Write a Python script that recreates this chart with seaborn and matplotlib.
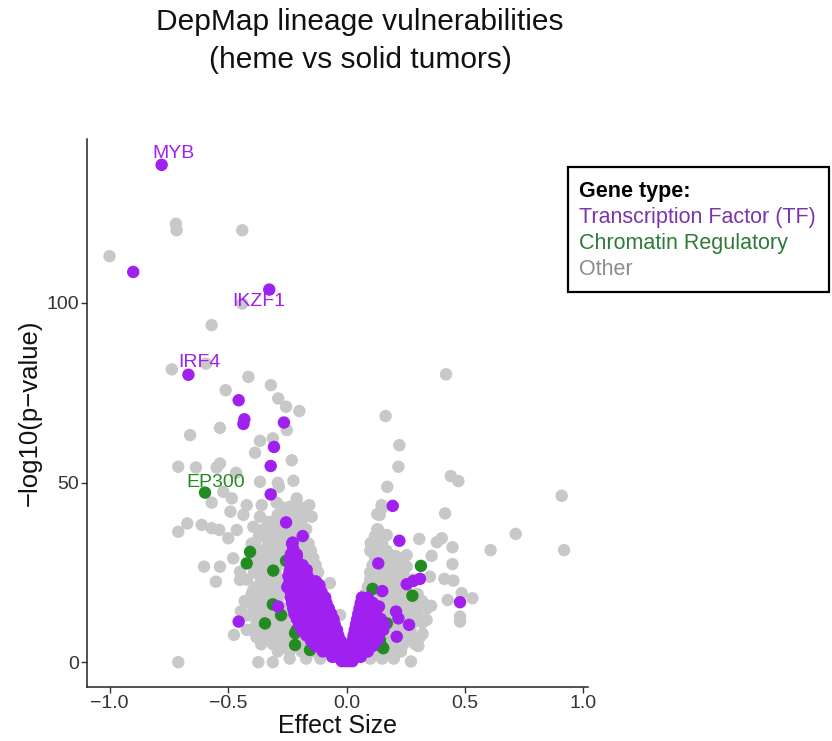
import matplotlib
matplotlib.use("Agg")
import matplotlib.pyplot as plt
from matplotlib.patches import Rectangle
import numpy as np
import pandas as pd
import seaborn as sns

# ---------------------------------------------------------------- data
# Genes outside the two highlighted classes ("Other")
other_x = [
    -0.72, -0.717, -0.44, -1.0, -0.44, -0.569, -0.737, -0.593, -0.414, -0.51,
    -0.319, -0.288, -0.255, -0.199, -0.534, -0.252, -0.66, -0.365, -0.311, -0.386,
    -0.231, -0.534, -0.548, -0.71, -0.635, -0.466, -0.365, -0.29, -0.224, -0.52,
    -0.285, -0.484, -0.569, -0.421, -0.358, -0.295, -0.21, -0.157, -0.49, -0.435,
    -0.238, -0.182, -0.147, -0.365, -0.309, -0.672, -0.611, -0.71, -0.569, -0.537,
    -0.463, -0.393, -0.323, -0.196, -0.499, -0.386, -0.33, -0.281, -0.168, -0.478,
    -0.365, -0.601, -0.534, -0.449, -0.551, -0.449, -0.351, -0.393, -0.337, -0.446,
    -0.407, -0.421, -0.475, -0.316, -0.71, -0.372, -0.311,
    0.42, 0.165, 0.223, 0.219, 0.44, 0.472, 0.172, 0.908, 0.148, 0.13,
    0.416, 0.134, 0.17, 0.307, 0.381, 0.402, 0.447, 0.714, 0.608, 0.918,
    0.102, 0.138, 0.205, 0.254, 0.359, 0.447, 0.212, 0.254, 0.352, 0.413,
    0.451, 0.184, 0.486, 0.531, 0.427, 0.357, 0.479, 0.479, 0.338, 0.321,
    0.303, 0.272, -0.027, -0.07,
    # dense cloud around the origin
    -0.24, -0.17, -0.11, 0.10, 0.15, 0.20,
    -0.29, -0.24, -0.19, -0.14, 0.13, 0.18, 0.23,
    -0.36, -0.31, -0.27, -0.23, -0.19, 0.16, 0.20, 0.24, 0.29,
    -0.38, -0.34, -0.30, -0.26, -0.22, 0.18, 0.22, 0.26, 0.31,
    -0.40, -0.36, -0.32, -0.28, -0.24, 0.19, 0.23, 0.27,
    -0.38, -0.34, -0.30, -0.26, 0.19, 0.23, 0.28, 0.32,
    -0.42, -0.37, -0.33, -0.29, -0.26, 0.05, 0.18, 0.22, 0.26, 0.30,
    -0.39, -0.35, -0.31, -0.27, 0.08, 0.17, 0.21, 0.25, 0.30, 0.34,
    -0.43, -0.37, -0.33, -0.29, 0.07, 0.15, 0.19, 0.23, 0.27, 0.32,
    -0.40, -0.35, -0.30, -0.28, 0.08, 0.14, 0.18, 0.22, 0.26, 0.30,
    -0.38, -0.33, -0.29, -0.12, 0.09, 0.13, 0.17, 0.21, 0.25,
    -0.42, -0.36, -0.32, -0.28, -0.13, 0.10, 0.14, 0.19, 0.23, 0.28,
    -0.39, -0.34, -0.30, -0.15, -0.12, 0.10, 0.15, 0.20, 0.24,
    -0.37, -0.33, -0.29, -0.16, -0.13, 0.11, 0.16, 0.19, 0.23,
    -0.39, -0.34, -0.30, -0.27, -0.17, -0.14, 0.12, 0.15, 0.18, 0.22,
    -0.36, -0.31, -0.27, -0.19, -0.15, 0.10, 0.13, 0.17,
    -0.40, -0.33, -0.28, -0.24, -0.20, -0.16, 0.11, 0.15,
    -0.37, -0.31, -0.26, -0.22, -0.18, 0.12, 0.16,
    -0.35, -0.29, -0.25, -0.21, -0.17, 0.13,
    -0.33, -0.27, -0.23, -0.19,
    -0.29, -0.25, -0.21, 0.14,
    -0.27, -0.23, -0.19, 0.15,
]
other_y = [
    122.0, 120.2, 120.2, 113.0, 99.8, 93.8, 81.5, 83.1, 79.4, 75.7,
    77.1, 73.4, 71.1, 69.9, 65.2, 64.6, 63.2, 61.6, 62.3, 58.3,
    56.2, 55.3, 54.2, 54.4, 54.2, 52.7, 50.2, 49.9, 50.5, 47.4,
    48.8, 45.6, 44.4, 43.7, 43.7, 44.4, 45.6, 43.7, 41.9, 41.0,
    43.3, 41.4, 40.5, 40.5, 39.1, 38.6, 38.2, 36.3, 37.3, 36.8,
    36.8, 37.7, 38.2, 38.6, 34.5, 33.1, 34.2, 34.0, 32.1, 28.9,
    30.3, 26.6, 26.6, 25.2, 22.4, 22.9, 22.9, 20.1, 18.2, 14.1,
    16.4, 9.0, 7.6, 6.2, 0.0, 0.0, 0.0,
    80.1, 68.5, 60.4, 54.4, 51.8, 50.4, 48.8, 46.3, 43.7, 41.2,
    41.4, 36.8, 35.4, 34.3, 33.4, 34.5, 32.0, 35.7, 31.2, 31.2,
    33.1, 32.0, 29.6, 29.8, 29.6, 27.3, 27.5, 26.6, 23.8, 23.2,
    22.7, 22.0, 19.2, 17.8, 17.3, 15.7, 12.7, 11.3, 11.8, 7.9,
    4.5, 0.2, 13.1, 22.0,
    1, 1, 1, 1, 1, 1,
    3, 3, 3, 3, 3, 3, 3,
    5, 5, 5, 5, 5, 5, 5, 5, 5,
    7, 7, 7, 7, 7, 7, 7, 7, 7,
    9, 9, 9, 9, 9, 9, 9, 9,
    11, 11, 11, 11, 11, 11, 11, 11,
    13, 13, 13, 13, 13, 13, 13, 13, 13, 13,
    15, 15, 15, 15, 15, 15, 15, 15, 15, 15,
    17, 17, 17, 17, 17, 17, 17, 17, 17, 17,
    19, 19, 19, 19, 19, 19, 19, 19, 19, 19,
    21, 21, 21, 21, 21, 21, 21, 21, 21,
    23, 23, 23, 23, 23, 23, 23, 23, 23, 23,
    25, 25, 25, 25, 25, 25, 25, 25, 25,
    27, 27, 27, 27, 27, 27, 27, 27, 27,
    29, 29, 29, 29, 29, 29, 29, 29, 29, 29,
    31, 31, 31, 31, 31, 31, 31, 31,
    33, 33, 33, 33, 33, 33, 33, 33,
    35, 35, 35, 35, 35, 35, 35,
    37, 37, 37, 37, 37, 37,
    39, 39, 39, 39,
    41, 41, 41, 41,
    43, 43, 43, 43,
]

# Chromatin regulators
chrom_x = [
    -0.597, -0.407, -0.421, -0.255, -0.309, -0.311, -0.276, -0.185, -0.344, -0.217,
    -0.217, -0.154, -0.21, -0.12, 0.314, 0.11, 0.278, 0.141, 0.155, 0.17, 0.15,
]
chrom_y = [
    47.2, 30.7, 27.5, 28.2, 25.5, 16.1, 13.1, 15.9, 10.8, 8.1,
    4.8, 3.4, 9.0, 17.0, 26.8, 20.4, 18.5, 6.2, 3.9, 10.8, 4.3,
]

# Transcription factors
tf_x = [
    -0.78, -0.90, -0.326, -0.667, -0.455, -0.431, -0.435, -0.264, -0.306, -0.32,
    -0.32, -0.255, -0.185, -0.227, -0.21, -0.224, -0.168, -0.25, -0.115, -0.154,
    -0.289, -0.455, 0.195, 0.223, 0.134, 0.254, 0.282, 0.31, 0.151, 0.479,
    0.137, 0.209, 0.219, 0.264, 0.212,
    # core of the V
    -0.02, -0.005, 0.01, 0.025,
    -0.06, -0.04, -0.02, 0.0, 0.02, 0.04, 0.06,
    -0.10, -0.075, -0.05, -0.03, -0.01, 0.01, 0.03, 0.05, 0.07, 0.09,
    -0.13, -0.105, -0.08, -0.06, -0.04, -0.018, 0.018, 0.04, 0.06, 0.085, 0.11,
    -0.15, -0.125, -0.10, -0.075, -0.05, -0.025, 0.025, 0.05, 0.075, 0.10, 0.13,
    -0.17, -0.145, -0.12, -0.095, -0.07, -0.035, 0.03, 0.055, 0.08, 0.105, 0.135,
    -0.19, -0.165, -0.14, -0.115, -0.09, -0.065, -0.04, 0.035, 0.06, 0.085, 0.11, 0.135, 0.155,
    -0.20, -0.175, -0.15, -0.125, -0.10, -0.075, -0.05, 0.04, 0.065, 0.09, 0.115, 0.14, 0.16,
    -0.21, -0.185, -0.16, -0.135, -0.11, -0.085, -0.055, 0.045, 0.07, 0.095, 0.12, 0.145,
    -0.22, -0.195, -0.17, -0.145, -0.12, -0.095, -0.065, 0.05, 0.075, 0.10, 0.125,
    -0.225, -0.20, -0.175, -0.15, -0.125, -0.10, -0.075, 0.055, 0.08, 0.105, 0.13,
    -0.23, -0.205, -0.18, -0.155, -0.13, -0.105, -0.085, 0.06, 0.085, 0.11,
    -0.235, -0.21, -0.185, -0.16, -0.135, -0.11, -0.09, 0.065, 0.09,
    -0.235, -0.21, -0.185, -0.16, -0.135, -0.105,
    -0.24, -0.215, -0.19, -0.165, -0.14, -0.115,
    -0.24, -0.215, -0.19, -0.16, -0.13,
    -0.245, -0.22, -0.195, -0.165,
    -0.24, -0.215, -0.19,
    -0.235, -0.21, -0.185,
    -0.24, -0.215,
    -0.235, -0.21,
    -0.225,
    -0.23,
]
tf_y = [
    138.4, 108.6, 103.7, 80.0, 72.9, 67.6, 66.3, 66.7, 59.9, 54.6,
    46.7, 38.9, 35.1, 33.3, 29.2, 25.7, 25.7, 20.9, 21.5, 22.9,
    15.5, 11.3, 43.5, 33.8, 27.5, 21.7, 22.6, 23.2, 19.8, 16.7,
    15.5, 14.1, 12.2, 10.4, 7.1,
    0.3, 0.3, 0.3, 0.3,
    1.5, 1.5, 1.5, 1.5, 1.5, 1.5, 1.5,
    3, 3, 3, 3, 3, 3, 3, 3, 3, 3,
    4.5, 4.5, 4.5, 4.5, 4.5, 4.5, 4.5, 4.5, 4.5, 4.5, 4.5,
    6, 6, 6, 6, 6, 6, 6, 6, 6, 6, 6,
    7.5, 7.5, 7.5, 7.5, 7.5, 7.5, 7.5, 7.5, 7.5, 7.5, 7.5,
    9, 9, 9, 9, 9, 9, 9, 9, 9, 9, 9, 9, 9,
    10.5, 10.5, 10.5, 10.5, 10.5, 10.5, 10.5, 10.5, 10.5, 10.5, 10.5, 10.5, 10.5,
    12, 12, 12, 12, 12, 12, 12, 12, 12, 12, 12, 12,
    13.5, 13.5, 13.5, 13.5, 13.5, 13.5, 13.5, 13.5, 13.5, 13.5, 13.5,
    15, 15, 15, 15, 15, 15, 15, 15, 15, 15, 15,
    16.5, 16.5, 16.5, 16.5, 16.5, 16.5, 16.5, 16.5, 16.5, 16.5,
    18, 18, 18, 18, 18, 18, 18, 18, 18,
    19.5, 19.5, 19.5, 19.5, 19.5, 19.5,
    21, 21, 21, 21, 21, 21,
    22.5, 22.5, 22.5, 22.5, 22.5,
    24, 24, 24, 24,
    25.5, 25.5, 25.5,
    27, 27, 27,
    28.5, 28.5,
    30, 30,
    31.5,
    33,
]

# Highlighted genes
label_genes = ["MYB", "IKZF1", "IRF4", "EP300"]
label_x = [-0.732, -0.371, -0.62, -0.551]
label_y = [141.6, 100.4, 83.5, 50.1]
label_class = ["TF", "TF", "TF", "Chromatin"]

gene_types = ["Other", "Chromatin", "TF"]
legend_labels = ["Transcription Factor (TF)", "Chromatin Regulatory", "Other"]

x_ticks = [-1.0, -0.5, 0.0, 0.5, 1.0]
y_ticks = [0, 50, 100]

# ---------------------------------------------------------------- style
point_colors = {"Other": "#C8C8C8", "Chromatin": "#228B22", "TF": "#A020F0"}
legend_colors = ["#7B35AC", "#2F7A3A", "#8C8C8C"]

sns.set_theme(style="white")
plt.rcParams["font.family"] = ["Liberation Sans", "DejaVu Sans"]

df = pd.concat([
    pd.DataFrame({"effect": other_x, "logp": other_y, "type": "Other"}),
    pd.DataFrame({"effect": chrom_x, "logp": chrom_y, "type": "Chromatin"}),
    pd.DataFrame({"effect": tf_x, "logp": tf_y, "type": "TF"}),
], ignore_index=True)

fig = plt.figure(figsize=(8.32, 7.41), dpi=100)
ax = fig.add_axes([87 / 832, 1 - 687 / 741, 501 / 832, 548 / 741])

sns.scatterplot(
    data=df, x="effect", y="logp", hue="type", hue_order=gene_types,
    palette=point_colors, s=80, linewidth=0, legend=False, ax=ax,
)

for name, lx, ly, cls in zip(label_genes, label_x, label_y, label_class):
    ax.text(lx, ly, name, color=point_colors[cls], fontsize=14,
            ha="center", va="center")

ax.set_xlim(-1.095, 1.019)
ax.set_ylim(-6.9, 145.6)
ax.set_xticks(x_ticks)
ax.set_xticklabels([f"{t:.1f}".replace("-", "\u2212") for t in x_ticks])
ax.set_yticks(y_ticks)
ax.set_yticklabels([str(t) for t in y_ticks])
ax.tick_params(axis="both", which="major", length=4, width=1.0,
               color="#333333", labelsize=14, labelcolor="#333333", pad=2,
               direction="out", bottom=True, left=True)

for side in ["top", "right"]:
    ax.spines[side].set_visible(False)
for side in ["left", "bottom"]:
    ax.spines[side].set_color("#222222")
    ax.spines[side].set_linewidth(1.1)

ax.set_xlabel("Effect Size", fontsize=18, color="#111111", labelpad=1)
ax.set_ylabel("\u2212log10(p\u2212value)", fontsize=18.5, color="#111111", labelpad=3)

# Title
fig.text(360 / 832, 1 - 22 / 741, "DepMap lineage vulnerabilities",
         ha="center", va="center", fontsize=21.5, color="#111111")
fig.text(360 / 832, 1 - 60 / 741, "(heme vs solid tumors)",
         ha="center", va="center", fontsize=21.5, color="#111111")

# Gene type key
fig.patches.append(Rectangle((568 / 832, 1 - 292 / 741), 261 / 832, 125 / 741,
                             transform=fig.transFigure, fill=False,
                             edgecolor="black", linewidth=1.6))
fig.text(579 / 832, 1 - 191 / 741, "Gene type:", ha="left", va="center",
         fontsize=15.5, fontweight="bold", color="black")
for lab, col, py in zip(legend_labels, legend_colors, [217, 244, 269.5]):
    fig.text(579 / 832, 1 - py / 741, lab, ha="left", va="center",
             fontsize=15.5, color=col)

fig.savefig("out.png", dpi=100)
